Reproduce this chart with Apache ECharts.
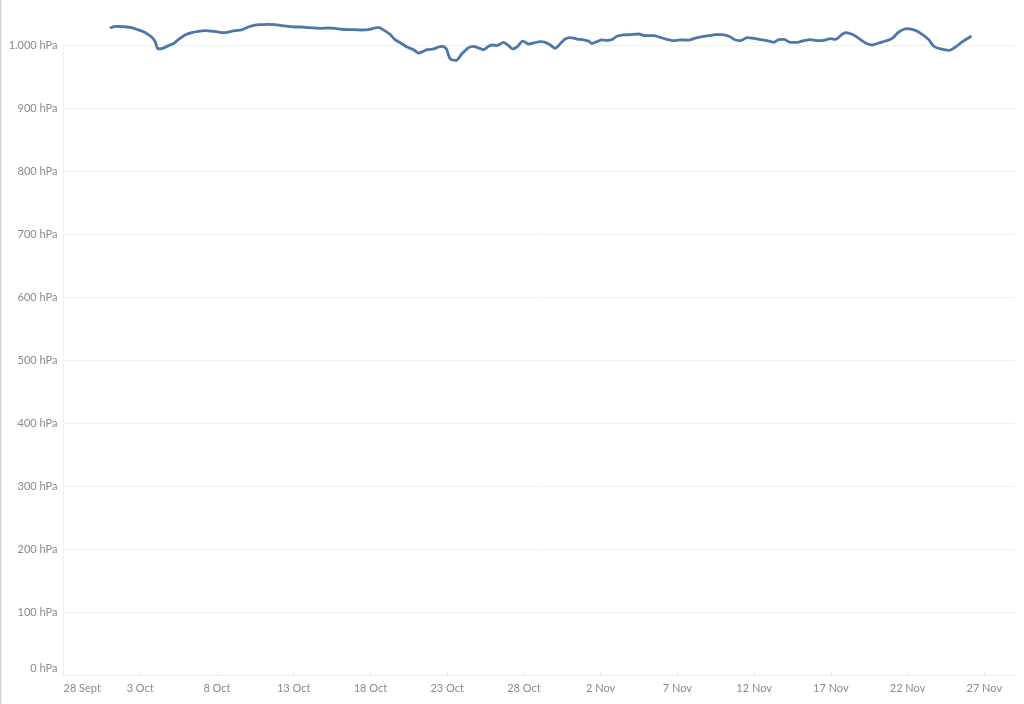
<!DOCTYPE html>
<html>
<head>
<meta charset="utf-8">
<script src="https://cdn.jsdelivr.net/npm/echarts@6/dist/echarts.min.js"></script>
<style>
html,body{margin:0;padding:0;background:#fff;}
#chart{width:1024px;height:704px;}
</style>
</head>
<body>
<div id="chart"></div>
<script>
// Days since 28 Sept (x) and air pressure in hPa (y)
const dayOffsets = [
  3.03,3.36,4.01,4.44,4.88,5.31,5.74,5.96,6.18,6.50,6.83,7.16,7.48,7.92,8.35,8.78,9.22,9.65,10.09,10.41,
  10.74,11.17,11.61,12.04,12.48,12.91,13.34,13.78,14.21,14.65,15.08,15.52,15.95,16.38,16.82,17.25,17.69,18.12,18.56,18.99,
  19.42,19.86,20.29,20.51,20.84,21.27,21.60,22.05,22.38,22.81,23.14,23.36,23.68,24.12,24.44,24.66,24.94,25.20,25.59,25.96,
  26.40,26.72,27.05,27.37,27.70,28.02,28.24,28.68,29.00,29.28,29.59,29.93,30.30,30.63,31.06,31.39,31.72,32.04,32.37,32.69,
  33.02,33.45,33.89,34.21,34.43,34.76,35.08,35.41,35.73,36.06,36.49,36.93,37.47,37.90,38.45,38.88,39.32,39.75,40.18,40.74,
  41.18,41.62,42.05,42.49,42.92,43.36,43.79,44.12,44.55,44.98,45.42,45.96,46.29,46.61,46.94,47.37,47.81,48.24,48.68,49.11,
  49.54,49.98,50.30,50.63,50.96,51.39,51.82,52.26,52.69,53.13,53.56,54.00,54.43,54.97,55.51,55.95,56.38,56.71,57.15,57.69,
  58.12,58.55,59.16
];
const pressure = [
  1027,1029.6,1029,1027.5,1024,1020,1012.7,1006,993.7,995,999,1002,1008.5,1016,1019.6,1021.7,1022.8,1022,1020.6,1019.6,
  1020.6,1022.8,1024,1028.6,1031.7,1032.3,1032.8,1032.3,1030.7,1029.6,1028.6,1028.6,1027.5,1027,1026.5,1027,1026.5,1025,1024.3,1024.3,
  1023.8,1024.3,1027,1028,1024,1017,1008.5,1002,996.8,992.6,987.3,989,992.6,993.7,996.8,997.9,994,978,975.7,986,
  995.8,997.9,995.2,992.6,997.9,1000,999,1004.2,999,993.7,997.9,1006.3,1001.6,1003.2,1005.3,1004.2,1000,994.7,1002,1009.5,
  1011.6,1009.5,1008,1006.3,1002.6,1005.3,1008,1007.4,1008.5,1013.8,1015.9,1016.4,1017.5,1014.8,1014.8,1012.2,1009,1006.9,1008,1007.8,
  1011,1013.2,1014.8,1016.4,1016.4,1013.8,1008,1006.9,1011.6,1010.6,1008.5,1006.3,1004.2,1008.5,1009,1004.2,1004.2,1006.9,1008.5,1006.9,
  1007.4,1010,1009,1014.8,1019.6,1017,1010.6,1003.2,1000,1003.2,1006.3,1010.6,1020.6,1025.9,1023.3,1017,1008.5,998,993.7,991.5,
  996.8,1004.8,1014.3
];
const xTickLabels = ["28 Sept","3 Oct","8 Oct","13 Oct","18 Oct","23 Oct","28 Oct","2 Nov","7 Nov","12 Nov","17 Nov","22 Nov","27 Nov"];

const seriesData = dayOffsets.map((d, i) => [d, pressure[i]]);

function fmtThousands(v) {
  const s = String(Math.round(v));
  return s.replace(/\B(?=(\d{3})+(?!\d))/g, '.');
}

const chart = echarts.init(document.getElementById('chart'), null, {renderer: 'canvas'});
const labelFont = {color: '#8a8a8a', fontSize: 11, fontFamily: 'Lato, "Open Sans", sans-serif'};

chart.setOption({
  animation: false,
  backgroundColor: '#ffffff',
  graphic: [{
    type: 'rect', left: 0, top: 0,
    shape: {width: 1.5, height: 704},
    style: {fill: '#d4d4d4'}
  }],
  grid: {left: 63.5, right: 9, top: 45, bottom: 29, containLabel: false},
  xAxis: {
    type: 'value',
    min: 0, max: 62, interval: 5,
    axisLine: {show: true, lineStyle: {color: '#f0f0f0', width: 1}},
    axisTick: {show: true, length: 3, inside: true, lineStyle: {color: '#e8e8e8'}},
    splitLine: {show: false},
    axisLabel: Object.assign({
      margin: 8,
      showMaxLabel: false,
      alignMinLabel: 'left',
      formatter: function (v) {
        const i = Math.round(v / 5);
        return (Math.abs(v - i * 5) < 1e-6 && xTickLabels[i]) ? xTickLabels[i] : '';
      }
    }, labelFont)
  },
  yAxis: {
    type: 'value',
    min: 0, max: 1000, interval: 100,
    axisLine: {show: true, lineStyle: {color: '#f0f0f0', width: 1}},
    axisTick: {show: false},
    splitLine: {show: true, lineStyle: {color: '#f0f0f0', width: 1}},
    axisLabel: Object.assign({
      margin: 6,
      formatter: function (v) {
        const t = fmtThousands(v) + ' hPa';
        return v === 0 ? '{low|' + t + '}' : t;
      },
      rich: {low: Object.assign({padding: [0, 0, 14, 0]}, labelFont)}
    }, labelFont)
  },
  series: [{
    type: 'line',
    data: seriesData,
    clip: false,
    showSymbol: false,
    smooth: 0.3,
    lineStyle: {color: '#4b77a9', width: 2.8},
    itemStyle: {color: '#4b77a9'}
  }]
});
</script>
</body>
</html>
